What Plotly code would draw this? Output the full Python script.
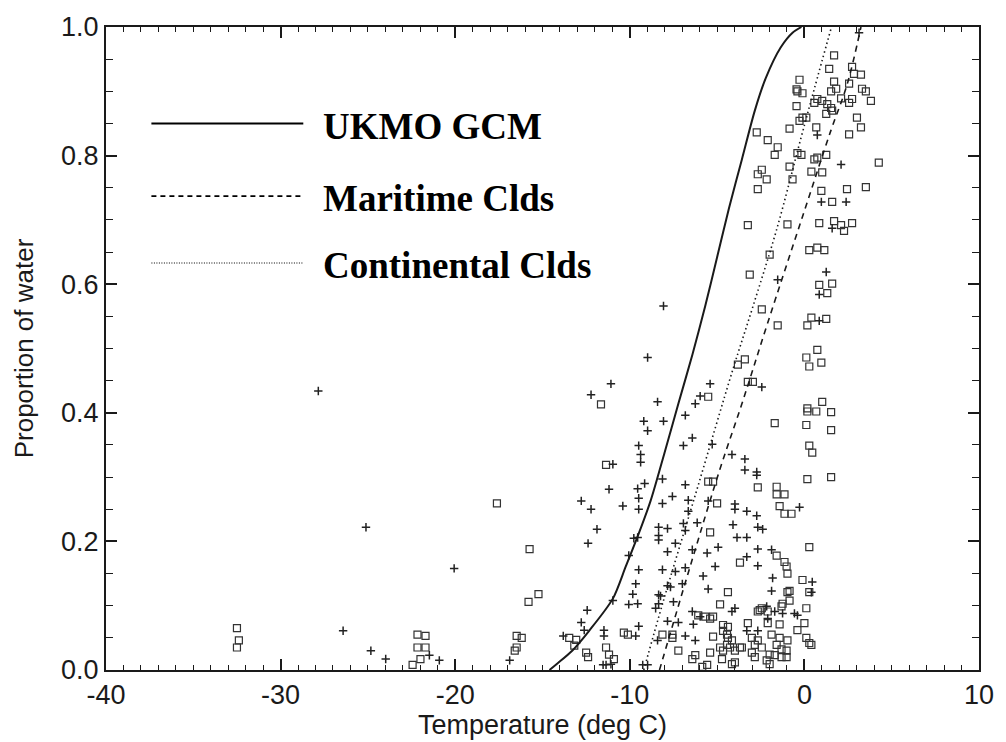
import plotly.graph_objects as go

# ---------------- data ----------------
ukmo_t = [-14.60, -14.20, -13.30, -12.33, -10.97, -10.23, -9.49, -8.81, -8.01, -7.22, -6.42, -5.68, -5.00, -4.32, -3.58, -2.84, -2.22, -1.36, -0.68, -0.17]
ukmo_f = [0.0, 0.009, 0.030, 0.061, 0.111, 0.161, 0.212, 0.263, 0.338, 0.414, 0.490, 0.566, 0.642, 0.718, 0.794, 0.870, 0.920, 0.968, 0.991, 1.0]

mari_t = [-8.30, -6.50, -4.83, -3.58, -2.10, -0.11, 1.53, 2.44, 3.24]
mari_f = [0.0, 0.165, 0.313, 0.414, 0.540, 0.705, 0.840, 0.910, 1.0]

cont_t = [-9.20, -8.07, -6.14, -4.09, -3.01, -1.59, -0.17, 0.57, 1.55]
cont_f = [0.0, 0.108, 0.282, 0.468, 0.560, 0.685, 0.830, 0.904, 1.0]

square_points = [
    (1.70, 0.956), (1.42, 0.935), (-0.28, 0.918), (-0.40, 0.900), (-0.11, 0.897), (-0.45, 0.903),
    (1.70, 0.915), (1.82, 0.904), (1.53, 0.900), (2.73, 0.938), (2.84, 0.927), (3.24, 0.926),
    (2.56, 0.912), (3.30, 0.904), (3.52, 0.900), (2.73, 0.888), (2.56, 0.882), (3.81, 0.885),
    (0.74, 0.888), (0.57, 0.882), (1.02, 0.885), (1.31, 0.880), (1.53, 0.874), (1.59, 0.870),
    (1.25, 0.865), (-0.45, 0.877), (-0.11, 0.859), (-0.28, 0.854), (0.11, 0.859), (2.10, 0.889),
    (3.01, 0.859), (3.24, 0.844), (-0.85, 0.842), (0.68, 0.844), (2.56, 0.833), (-2.73, 0.836),
    (-2.10, 0.824), (-1.53, 0.813), (-1.70, 0.801), (-0.40, 0.804), (-0.17, 0.801), (0.57, 0.794),
    (0.74, 0.797), (1.25, 0.801), (4.26, 0.789), (-0.85, 0.783), (0.40, 0.775), (1.02, 0.774),
    (-0.68, 0.763), (-2.44, 0.778), (-2.67, 0.771), (-2.16, 0.763), (-2.67, 0.748), (0.97, 0.745),
    (2.44, 0.748), (3.52, 0.751), (1.59, 0.728), (-3.24, 0.692), (-0.97, 0.693), (0.85, 0.695),
    (1.70, 0.698), (2.10, 0.692), (2.27, 0.683), (2.73, 0.695), (-1.99, 0.646), (0.28, 0.653),
    (0.74, 0.657), (1.14, 0.653), (-3.13, 0.615), (0.85, 0.599), (1.59, 0.601), (1.31, 0.586),
    (-1.53, 0.536), (0.17, 0.536), (0.40, 0.548), (1.25, 0.546), (-2.44, 0.561),
    (0.74, 0.498), (0.11, 0.486), (0.97, 0.478), (0.28, 0.472), (-3.41, 0.483), (-3.81, 0.475),
    (-3.24, 0.448), (-2.95, 0.448), (-5.51, 0.425), (1.02, 0.417), (0.17, 0.407), (0.17, 0.402),
    (0.68, 0.402), (1.53, 0.401), (-1.70, 0.384), (0.11, 0.381), (1.53, 0.373), (0.28, 0.349),
    (0.45, 0.338), (0.17, 0.297), (1.53, 0.300), (-11.65, 0.413), (-11.36, 0.319), (-5.51, 0.293),
    (-5.23, 0.293), (-2.67, 0.284), (-1.59, 0.285), (-1.59, 0.273), (-1.14, 0.273), (-5.00, 0.259),
    (-1.42, 0.255), (-0.74, 0.243), (-1.14, 0.243), (-5.40, 0.214), (0.28, 0.191), (-1.59, 0.178),
    (-1.14, 0.168), (-1.02, 0.161), (-3.69, 0.167), (-0.97, 0.150), (-0.11, 0.140), (-4.38, 0.121),
    (-0.85, 0.123), (0.28, 0.121), (-17.61, 0.259), (-15.74, 0.188), (-15.80, 0.106), (-15.23, 0.118),
    (-4.83, 0.102), (-1.25, 0.103), (-1.31, 0.099), (-2.44, 0.096), (-2.67, 0.091), (0.11, 0.096),
    (-5.68, 0.083), (-5.40, 0.080), (-5.23, 0.083), (-2.10, 0.073), (-1.42, 0.071), (-3.24, 0.073),
    (-4.66, 0.070), (-4.38, 0.067), (0.0, 0.073), (-0.40, 0.062), (-4.66, 0.061), (-4.43, 0.055),
    (-5.23, 0.052), (-4.38, 0.050), (-4.15, 0.046), (-7.56, 0.055), (-7.56, 0.050), (-8.13, 0.055),
    (-10.34, 0.058), (-10.11, 0.055), (-3.01, 0.050), (-2.67, 0.046), (-2.84, 0.039), (-2.44, 0.035),
    (-1.88, 0.055), (-1.42, 0.050), (-0.97, 0.046), (-1.59, 0.039), (-1.31, 0.032), (-4.83, 0.035),
    (-4.66, 0.030), (-4.26, 0.035), (-3.98, 0.030), (-3.69, 0.035), (-4.43, 0.039), (-7.22, 0.030),
    (-5.40, 0.027), (0.11, 0.050), (0.28, 0.042), (-3.01, 0.027), (-2.84, 0.020), (-1.99, 0.024),
    (-1.70, 0.023), (-1.31, 0.020), (-1.02, 0.020), (-3.58, 0.035), (-11.36, 0.035), (-11.19, 0.024),
    (-10.91, 0.017), (-6.42, 0.017), (-6.25, 0.023), (-4.72, 0.017), (-3.98, 0.012), (-4.15, 0.009),
    (-2.16, 0.015), (-1.99, 0.009), (-5.57, 0.008), (-5.85, 0.005), (-0.97, 0.121), (-0.85, 0.108),
    (-2.10, 0.091), (-2.56, 0.093), (-6.08, 0.085), (0.40, 0.039), (-1.02, 0.030),
    (-16.48, 0.053), (-16.19, 0.050), (-16.48, 0.035), (-16.59, 0.030), (-13.47, 0.050), (-13.07, 0.047),
    (-13.18, 0.038), (-12.50, 0.027), (-12.39, 0.020), (-22.16, 0.055), (-21.70, 0.053), (-22.16, 0.035),
    (-21.70, 0.035), (-21.99, 0.017), (-22.44, 0.008), (-32.5, 0.065), (-32.39, 0.046), (-32.5, 0.035),
]

plus_points = [
    (3.13, 0.991), (0.74, 0.832), (2.10, 0.786), (0.97, 0.728), (2.39, 0.728), (1.59, 0.687),
    (-1.53, 0.607), (1.25, 0.619), (0.85, 0.584), (0.85, 0.543), (-2.44, 0.440), (-5.40, 0.445),
    (-5.97, 0.426), (-8.98, 0.486), (-11.08, 0.445), (-12.22, 0.428), (-8.41, 0.417), (-6.25, 0.414),
    (-9.20, 0.387), (-8.07, 0.387), (-8.98, 0.372), (-6.82, 0.396), (-6.42, 0.361), (-6.93, 0.349),
    (-5.28, 0.351), (-4.15, 0.335), (-3.41, 0.328), (-9.49, 0.349), (-9.38, 0.335), (-9.38, 0.323),
    (-10.97, 0.320), (-3.41, 0.311), (-2.73, 0.308), (-2.73, 0.303), (-8.13, 0.297), (-9.15, 0.290),
    (-6.82, 0.288), (-11.19, 0.281), (-9.55, 0.282), (-7.56, 0.270), (-6.65, 0.264), (-9.49, 0.267),
    (-5.51, 0.263), (-8.13, 0.259), (-0.28, 0.253), (-3.98, 0.258), (-3.98, 0.250), (-3.30, 0.247),
    (-2.73, 0.240), (-10.40, 0.255), (-9.49, 0.250), (-6.65, 0.247), (-12.78, 0.263), (-12.22, 0.250),
    (-6.93, 0.228), (-6.82, 0.217), (-8.35, 0.222), (-7.84, 0.220), (-8.35, 0.209), (-6.14, 0.229),
    (-4.09, 0.226), (-2.67, 0.222), (-2.39, 0.219), (-3.86, 0.206), (-3.30, 0.206), (-9.55, 0.206),
    (-9.77, 0.205), (-11.88, 0.219), (-12.39, 0.197), (-4.94, 0.191), (-8.35, 0.202), (-7.39, 0.197),
    (-6.42, 0.187), (-2.67, 0.188), (-1.88, 0.187), (-10.06, 0.178), (-7.84, 0.184), (-5.57, 0.182),
    (-3.30, 0.176), (-5.11, 0.161), (-2.67, 0.162), (-9.49, 0.156), (-8.13, 0.156), (-7.39, 0.153),
    (-6.82, 0.159), (0.45, 0.137), (-5.80, 0.146), (-1.82, 0.143), (-9.66, 0.134), (-7.84, 0.131),
    (-7.67, 0.129), (-6.99, 0.134), (-5.51, 0.126), (-1.88, 0.123), (0.40, 0.121), (-9.83, 0.118),
    (-8.24, 0.115), (-10.97, 0.108), (-10.06, 0.102), (-8.35, 0.117), (-2.16, 0.099), (-1.70, 0.091),
    (-1.25, 0.088), (-0.57, 0.088), (-0.40, 0.085), (-3.98, 0.096), (-4.15, 0.091), (-6.42, 0.091),
    (-5.97, 0.083), (-6.36, 0.071), (-7.22, 0.074), (-7.84, 0.076), (-8.52, 0.096), (-8.35, 0.103),
    (-7.50, 0.106), (-9.55, 0.103), (-2.10, 0.080), (-3.30, 0.061), (-2.67, 0.061), (-6.25, 0.046),
    (-6.82, 0.053), (-8.41, 0.046), (-9.49, 0.068), (-9.66, 0.053), (-11.48, 0.062), (-11.48, 0.053),
    (-12.44, 0.093), (-12.78, 0.074), (-12.61, 0.062), (-13.81, 0.053), (-11.53, 0.008), (-9.26, 0.008),
    (-8.98, 0.008), (-16.88, 0.015), (-20.06, 0.158), (-20.91, 0.015), (-21.48, 0.023), (-26.42, 0.061),
    (-24.83, 0.030), (-23.98, 0.017), (-27.84, 0.434), (-25.11, 0.222), (-11.36, 0.008), (-11.08, 0.009),
    (-8.07, 0.566),
]

legend_labels = ["UKMO GCM", "Maritime Clds", "Continental Clds"]
x_ticks = [-40, -30, -20, -10, 0, 10]
y_ticks = [0.0, 0.2, 0.4, 0.6, 0.8, 1.0]

# ---------------- figure ----------------
ink = "#1a1a1a"
fig = go.Figure()

fig.add_trace(go.Scatter(
    x=[p[0] for p in square_points], y=[p[1] for p in square_points], mode="markers",
    marker=dict(symbol="square-open", size=7, color="#333333", line=dict(width=1.2, color="#333333")),
    showlegend=False, hoverinfo="skip"))
fig.add_trace(go.Scatter(
    x=[p[0] for p in plus_points], y=[p[1] for p in plus_points], mode="markers",
    marker=dict(symbol="cross-thin", size=6, line=dict(width=1.5, color="#222222")),
    showlegend=False, hoverinfo="skip"))

fig.add_trace(go.Scatter(x=ukmo_t, y=ukmo_f, mode="lines", line=dict(color=ink, width=2, shape="spline", smoothing=0.8),
                         showlegend=False, hoverinfo="skip"))
fig.add_trace(go.Scatter(x=mari_t, y=mari_f, mode="lines", line=dict(color=ink, width=1.6, dash="6px,5px", shape="spline", smoothing=1.0),
                         showlegend=False, hoverinfo="skip"))
fig.add_trace(go.Scatter(x=cont_t, y=cont_f, mode="lines", line=dict(color=ink, width=1.6, dash="1.5px,3px", shape="spline", smoothing=1.0),
                         showlegend=False, hoverinfo="skip"))

# manual legend (lines + big bold serif labels) inside the plot
leg_y = [0.850, 0.737, 0.633]
leg_dash = ["solid", "5px,4px", "1px,1.5px"]
leg_w = [2, 1.6, 1.2]
for lab, yy, dsh, w in zip(legend_labels, leg_y, leg_dash, leg_w):
    fig.add_shape(type="line", xref="x", yref="y", x0=-37.4, x1=-28.7, y0=yy, y1=yy,
                  line=dict(color="black", width=w, dash=dsh))
    fig.add_annotation(x=-27.7, y=yy - 0.004, xref="x", yref="y", text="<b>" + lab + "</b>",
                       showarrow=False, xanchor="left", yanchor="middle",
                       font=dict(family="Liberation Serif, Times New Roman, serif", size=37, color="black"))

axis_common = dict(showline=True, linecolor=ink, linewidth=2, mirror="ticks", showgrid=False, zeroline=False,
                   ticks="inside", tickcolor=ink, tickwidth=1.5, ticklen=11, ticklabeloverflow="allow",
                   tickfont=dict(family="Liberation Sans, Arial, sans-serif", size=27, color=ink))

fig.update_xaxes(range=[-40, 10], tickvals=x_ticks, ticktext=[str(v) for v in x_ticks],
                 minor=dict(dtick=1, tick0=-40, ticks="inside", ticklen=5, tickwidth=1, tickcolor=ink),
                 title=dict(text="Temperature (deg C)", standoff=1,
                            font=dict(family="Liberation Sans, Arial, sans-serif", size=27, color=ink)),
                 **axis_common)
fig.update_yaxes(range=[0, 1.0], tickvals=y_ticks, ticktext=["%.1f" % v for v in y_ticks],
                 minor=dict(dtick=0.05, tick0=0, ticks="inside", ticklen=7, tickwidth=1, tickcolor=ink),
                 title=dict(text="Proportion of water", standoff=20,
                            font=dict(family="Liberation Sans, Arial, sans-serif", size=26, color=ink)),
                 **axis_common)

fig.update_layout(width=1006, height=742, margin=dict(l=106, r=20, t=14, b=69),
                  paper_bgcolor="white", plot_bgcolor="white", showlegend=False)

fig.write_html("out.html")
